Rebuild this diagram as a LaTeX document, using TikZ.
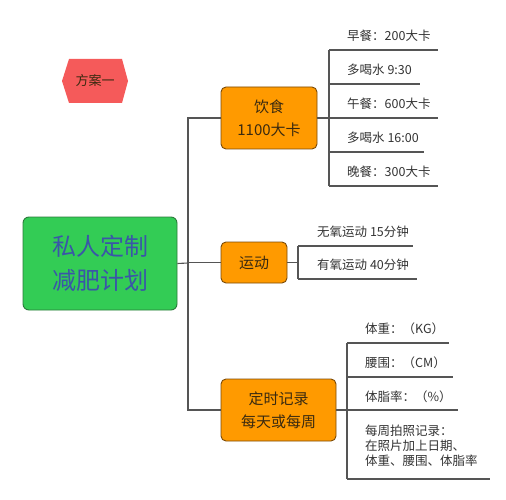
\documentclass[tikz,border=0pt]{standalone}
\usepackage{fontspec}
\setmainfont{Noto Sans CJK SC}
\definecolor{orangef}{HTML}{FF9A00}
\definecolor{oranged}{HTML}{7A4A08}
\definecolor{greenf}{HTML}{33CC55}
\definecolor{greend}{HTML}{2A7A3A}
\definecolor{maintxt}{HTML}{3A56A8}
\definecolor{redf}{HTML}{F55A5A}
\definecolor{lnc}{HTML}{555555}
\definecolor{txt}{HTML}{333333}
\definecolor{boxtxt}{HTML}{3A2A10}
\begin{document}
\begin{tikzpicture}[x=1pt,y=-1pt,
  ln/.style={draw=lnc,line width=1.1pt},
  mainbox/.style={draw=greend,line width=0.9pt,fill=greenf,rounded corners=6pt,
    text=maintxt,align=center,font=\fontsize{24}{34}\selectfont,inner sep=0pt},
  topic/.style={draw=oranged,line width=0.9pt,fill=orangef,rounded corners=5pt,
    text=boxtxt,align=center,font=\fontsize{15}{23}\selectfont,inner sep=0pt},
  leaf/.style={anchor=west,text=txt,inner sep=0pt,font=\fontsize{12.5}{15}\selectfont,align=left}
]
\useasboundingbox (0,0) rectangle (506,500);
% hexagon label
\fill[redf] (62,81) -- (69,59) -- (122,59) -- (128,81) -- (122,103) -- (69,103) -- cycle;
\node[text=boxtxt,font=\fontsize{13}{15}\selectfont,inner sep=0pt] (plan) at (95,81) {方案一};
% main
\node[mainbox,minimum width=154pt,minimum height=93pt] (main) at (100,263.5) {私人定制\\减肥计划};
% topics
\node[topic,minimum width=96pt,minimum height=62pt] (food) at (269,118) {饮食\\1100大卡};
\node[topic,minimum width=66pt,minimum height=41pt] (sport) at (254,262.5) {运动};
\node[topic,minimum width=115pt,minimum height=62pt] (rec) at (278.5,410) {定时记录\\每天或每周};
% trunk
\coordinate (t) at (188,263);
\draw[ln] (main.east) -- (t);
\draw[ln] (food.west) -| (t);
\draw[ln] (sport.west) -- (sport.west -| t);
\draw[ln] (rec.west) -| (t);
% food leaves
\coordinate (fj) at (329,118);
\draw[ln] (food.east) -- (fj);
\foreach \n/\y/\e in {1/50/438,2/84/420,3/118/438,4/152/424,5/186/438}{
  \coordinate (fa\n) at (329,\y);
  \coordinate (fb\n) at (\e,\y);
  \draw[ln] (fa\n) -- (fb\n);
}
\draw[ln] (fa1) -- (fa5);
\node[leaf] (f1) at (347,36) {早餐：200大卡};
\node[leaf] (f2) at (347,70) {多喝水 9:30};
\node[leaf] (f3) at (347,104) {午餐：600大卡};
\node[leaf] (f4) at (347,138) {多喝水 16:00};
\node[leaf] (f5) at (347,172) {晚餐：300大卡};
% sport leaves
\coordinate (sj) at (298,262.5);
\draw[ln] (sport.east) -- (sj);
\foreach \n/\y/\e in {1/246/413,2/279/417}{
  \coordinate (sa\n) at (298,\y);
  \coordinate (sb\n) at (\e,\y);
  \draw[ln] (sa\n) -- (sb\n);
}
\draw[ln] (sa1) -- (sa2);
\node[leaf] (s1) at (317,232) {无氧运动 15分钟};
\node[leaf] (s2) at (317,265) {有氧运动 40分钟};
% record leaves
\coordinate (rj) at (347,410);
\draw[ln] (rec.east) -- (rj);
\foreach \n/\y/\e in {1/343/449,2/377/453,3/410/458,4/479/490}{
  \coordinate (ra\n) at (347,\y);
  \coordinate (rb\n) at (\e,\y);
  \draw[ln] (ra\n) -- (rb\n);
}
\draw[ln] (ra1) -- (ra4);
\node[leaf] (r1) at (365,329) {体重：（KG）};
\node[leaf] (r2) at (365,363) {腰围：（CM）};
\node[leaf] (r3) at (365,397) {体脂率：（\%）};
\node[leaf,anchor=north west] (r4) at (365,425) {每周拍照记录：\\在照片加上日期、\\体重、腰围、体脂率};
\end{tikzpicture}
\end{document}
